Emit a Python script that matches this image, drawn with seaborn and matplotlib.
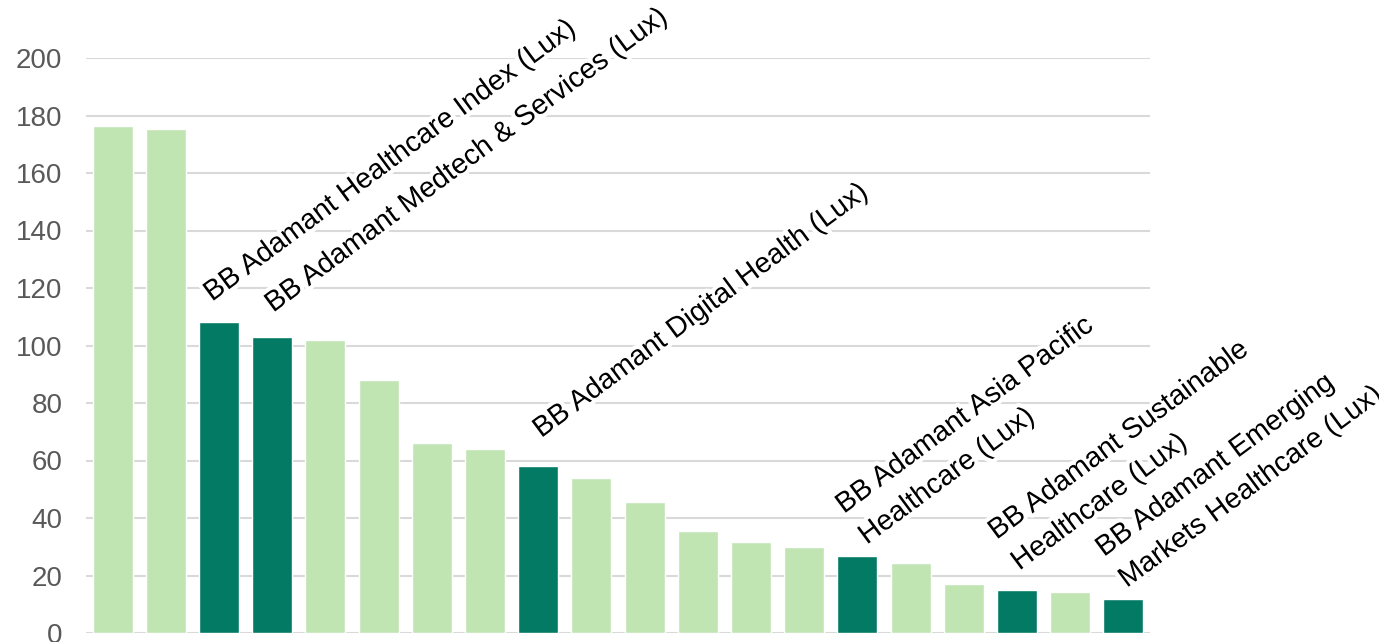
import matplotlib
matplotlib.use("Agg")
import matplotlib.patheffects as pe
import matplotlib.pyplot as plt
import pandas as pd
import seaborn as sns

# peer funds ranked by value, BB Adamant funds highlighted
fund_ids = ["1", "2", "3", "4", "5", "6", "7", "8", "9", "10",
            "11", "12", "13", "14", "15", "16", "17", "18", "19", "20"]
values = [176.3, 175.3, 108.2, 103.0, 101.9, 88.0, 66.0, 64.0, 58.0, 53.9,
          45.6, 35.5, 31.7, 29.9, 26.8, 24.3, 17.0, 15.0, 14.3, 11.8]
is_adamant = [False, False, True, True, False, False, False, False, True, False,
              False, False, False, False, True, False, False, True, False, True]

label_ids = ["3", "4", "9", "15", "18", "20"]
label_texts = [
    "BB Adamant Healthcare Index (Lux)",
    "BB Adamant Medtech & Services (Lux)",
    "BB Adamant Digital Health (Lux)",
    "BB Adamant Asia Pacific\nHealthcare (Lux)",
    "BB Adamant Sustainable\nHealthcare (Lux)",
    "BB Adamant Emerging\nMarkets Healthcare (Lux)",
]
y_ticks = [0, 20, 40, 60, 80, 100, 120, 140, 160, 180, 200]

# label offsets from bar top (pixels)
label_offsets = [(-7, -20), (1, -24), (3, -28), (2, -21), (-5, -29), (-4, -21)]

LIGHT = "#c0e4b2"
DARK = "#027a64"


def main():
    sns.set_theme(style="white")
    plt.rcParams["font.family"] = ["Liberation Sans", "DejaVu Sans"]

    df = pd.DataFrame({"fund": fund_ids, "value": values, "adamant": is_adamant})
    df["kind"] = df["adamant"].map({True: "adamant", False: "peer"})

    fig = plt.figure(figsize=(13.79, 6.42), dpi=100)
    ax = fig.add_axes([86 / 1379, 9 / 642, 1064 / 1379, 575 / 642])

    sns.barplot(
        data=df,
        x="fund",
        y="value",
        hue="kind",
        palette={"adamant": DARK, "peer": LIGHT},
        dodge=False,
        width=0.75,
        legend=False,
        saturation=1,
        ax=ax,
    )

    ax.set_ylim(0, 200)
    ax.set_yticks(y_ticks)
    ax.set_axisbelow(True)
    ax.yaxis.grid(True, color="#d9d9d9", linewidth=1.5)
    ax.xaxis.grid(False)
    ax.tick_params(axis="y", length=0, pad=17, labelsize=20, labelcolor="#595959")
    ax.tick_params(axis="x", length=0, labelbottom=False)
    ax.set_xlabel("")
    ax.set_ylabel("")
    for side in ["top", "right", "left", "bottom"]:
        ax.spines[side].set_visible(False)

    pos = {f: i for i, f in enumerate(fund_ids)}
    for fid, text, (dx, dy) in zip(label_ids, label_texts, label_offsets):
        i = pos[fid]
        ax.annotate(
            text,
            xy=(i, values[i]),
            xytext=(dx, -dy),
            textcoords="offset pixels",
            ha="left",
            va="baseline",
            rotation=36.5,
            rotation_mode="anchor",
            fontsize=20.5,
            color="black",
            linespacing=1.62,
            annotation_clip=False,
            path_effects=[pe.withStroke(linewidth=6, foreground="white")],
            zorder=5,
        )

    fig.savefig("out.png", dpi=100)
    plt.close(fig)


if __name__ == "__main__":
    main()
